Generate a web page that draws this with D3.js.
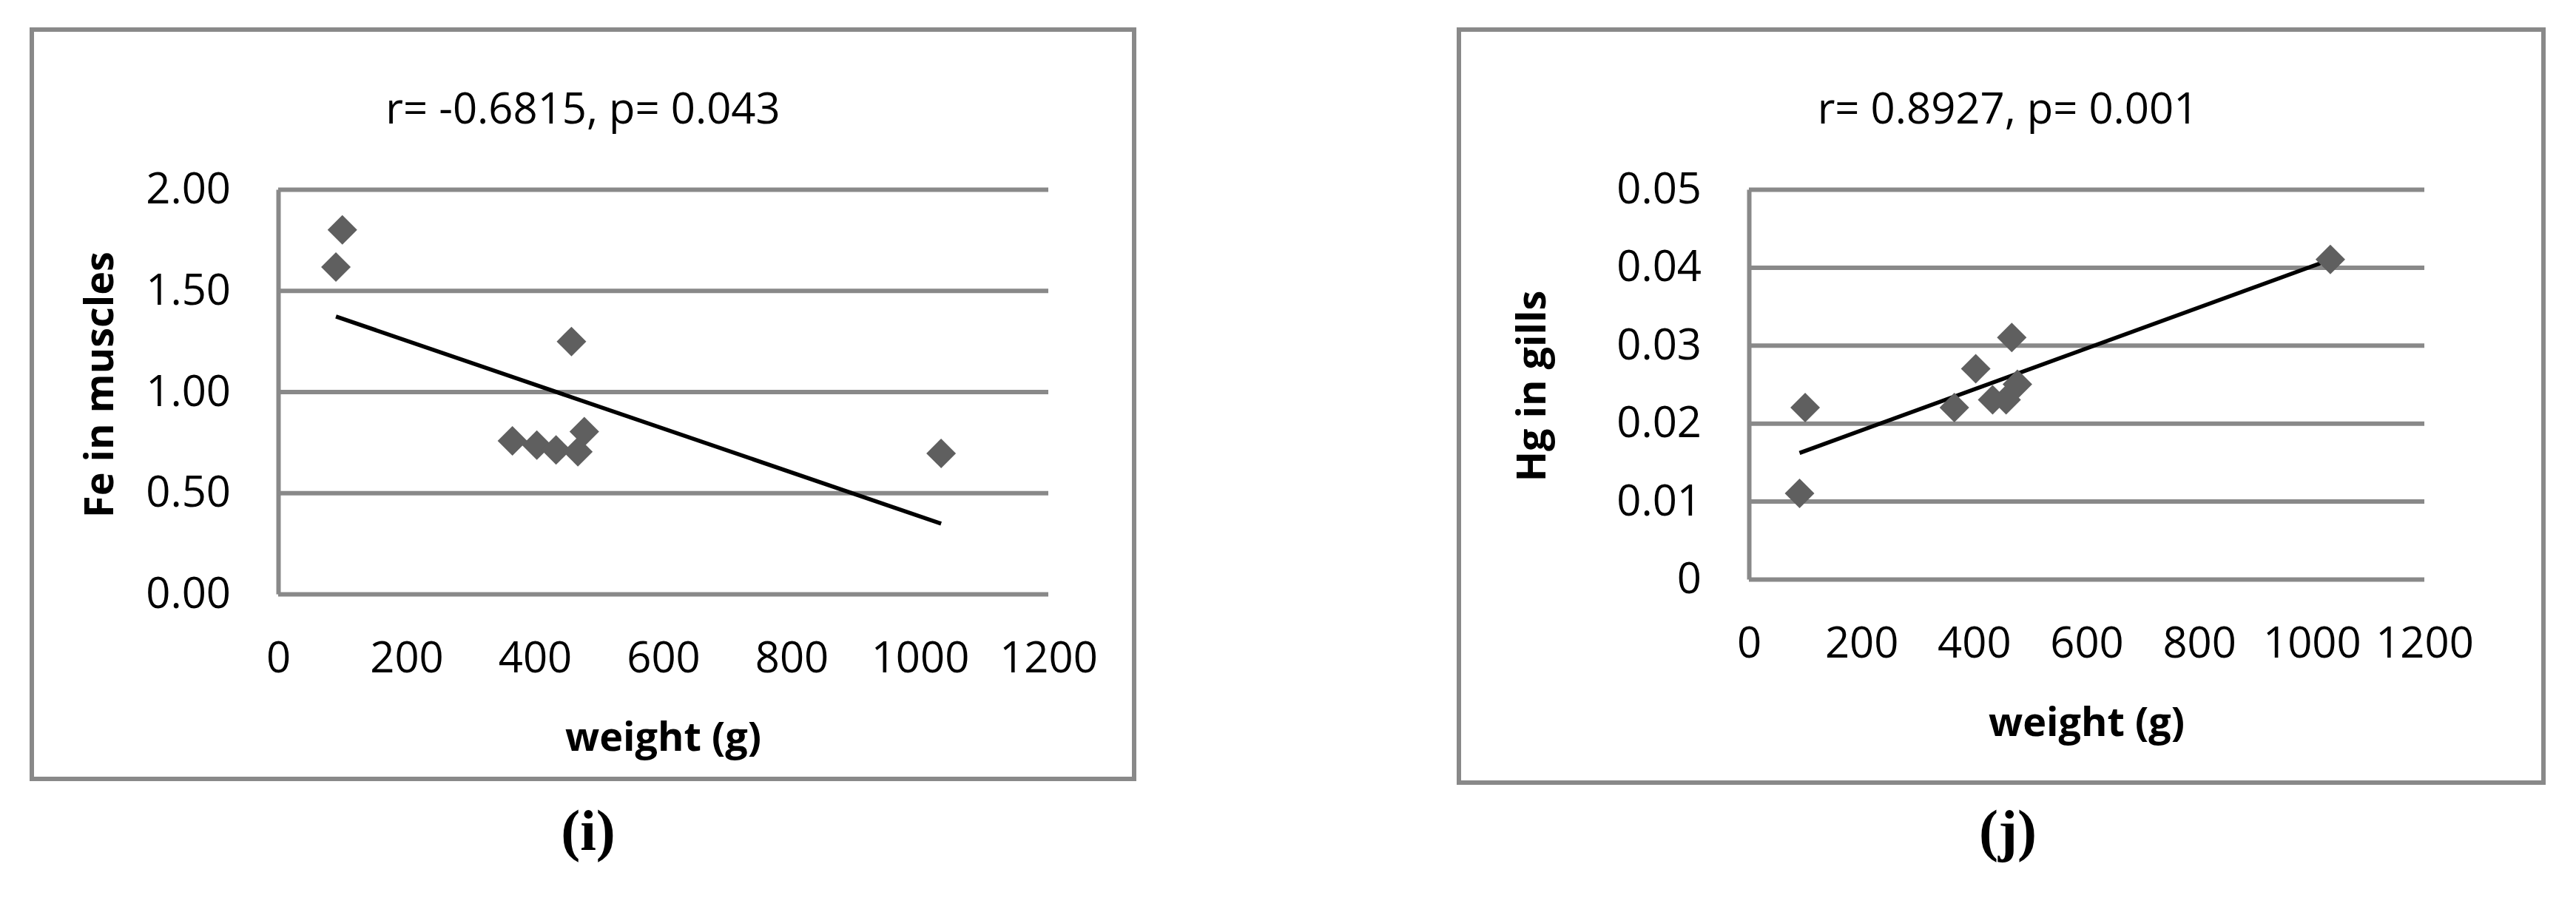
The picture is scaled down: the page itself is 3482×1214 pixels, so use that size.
<!DOCTYPE html>
<html>
<head>
<meta charset="utf-8">
<script src="https://cdn.jsdelivr.net/npm/d3@7/dist/d3.min.js"></script>
<style>
html, body { margin: 0; padding: 0; background: #fff; }
svg { display: block; }
.tick text { font-family: "Open Sans", sans-serif; font-size: 58px; fill: #000; }
.stat { font-family: "Open Sans", sans-serif; font-size: 58px; fill: #000; }
.axis-title { font-family: "Open Sans", sans-serif; font-size: 54px; font-weight: bold; fill: #000; }
.caption { font-family: "Liberation Serif", serif; font-size: 78px; font-weight: bold; fill: #000; }
</style>
</head>
<body>
<svg id="chart" width="3482" height="1214"></svg>
<script>

// fish weight (g), same fish in both panels
var weights = [90, 100, 365, 403, 433, 457, 467, 477, 1033];
// panel (i): Fe in muscles
var feMuscles = [1.616, 1.80, 0.757, 0.736, 0.712, 1.248, 0.703, 0.803, 0.695];
// panel (j): Hg in gills
var hgGills = [0.011, 0.022, 0.022, 0.027, 0.023, 0.023, 0.031, 0.025, 0.041];

var xTicks = [0, 200, 400, 600, 800, 1000, 1200];
var feTicks = [0, 0.5, 1, 1.5, 2];
var feTickLabels = ['0.00', '0.50', '1.00', '1.50', '2.00'];
var hgTicks = [0, 0.01, 0.02, 0.03, 0.04, 0.05];
var hgTickLabels = ['0', '0.01', '0.02', '0.03', '0.04', '0.05'];

var gridColor = '#898989', markerColor = '#5f5f5f';

var svg = d3.select('#chart');

var panels = [
    { frame: [43, 40, 1533, 1053], plot: { l: 376, r: 1417, t: 256, b: 803 },
      y: feMuscles, yMax: 2, ticks: feTicks, labels: feTickLabels,
      yTitle: 'Fe in muscles', yTitleX: 153, yTitleY: 520,
      stat: 'r= -0.6815, p= 0.043', statX: 788,
      xTitleY: 1015, caption: '(i)', captionX: 795 },
    { frame: [1972, 40, 3438, 1058], plot: { l: 2364, r: 3277, t: 256, b: 783 },
      y: hgGills, yMax: 0.05, ticks: hgTicks, labels: hgTickLabels,
      yTitle: 'Hg in gills', yTitleX: 2089, yTitleY: 522,
      stat: 'r= 0.8927, p= 0.001', statX: 2714,
      xTitleY: 995, caption: '(j)', captionX: 2714 }
];

function linReg(xs, ys) {
    var mx = d3.mean(xs), my = d3.mean(ys);
    var sxy = d3.sum(xs, function(x, i) { return (x - mx) * (ys[i] - my); });
    var sxx = d3.sum(xs, function(x) { return (x - mx) * (x - mx); });
    var b = sxy / sxx;
    return function(x) { return my + b * (x - mx); };
}

panels.forEach(function(p) {

    // outer chart border
    svg.append('rect')
        .attr('x', p.frame[0]).attr('y', p.frame[1])
        .attr('width', p.frame[2] - p.frame[0]).attr('height', p.frame[3] - p.frame[1])
        .attr('fill', 'none').attr('stroke', gridColor).attr('stroke-width', 6);

    var x = d3.scaleLinear().domain([0, 1200]).range([p.plot.l, p.plot.r]);
    var y = d3.scaleLinear().domain([0, p.yMax]).range([p.plot.b, p.plot.t]);

    // y axis + horizontal gridlines
    var yAxis = svg.append('g')
        .attr('transform', 'translate(' + p.plot.l + ',0)')
        .call(d3.axisLeft(y).tickValues(p.ticks)
            .tickFormat(function(d, i) { return p.labels[i]; })
            .tickSizeInner(-(p.plot.r - p.plot.l)).tickSizeOuter(0).tickPadding(64));
    yAxis.selectAll('line').attr('stroke', gridColor).attr('stroke-width', 6);
    yAxis.select('.domain').attr('stroke', gridColor).attr('stroke-width', 6);

    // x axis labels only
    var xAxis = svg.append('g')
        .attr('transform', 'translate(0,' + p.plot.b + ')')
        .call(d3.axisBottom(x).tickValues(xTicks).tickFormat(d3.format('d'))
            .tickSize(0).tickPadding(65));
    xAxis.select('.domain').remove();

    // linear trend line over the data range
    var fit = linReg(weights, p.y);
    var ext = d3.extent(weights);
    svg.append('line')
        .attr('x1', x(ext[0])).attr('y1', y(fit(ext[0])))
        .attr('x2', x(ext[1])).attr('y2', y(fit(ext[1])))
        .attr('stroke', '#000').attr('stroke-width', 5.5);

    // diamond markers
    svg.append('g').selectAll('path').data(weights).enter().append('path')
        .attr('d', d3.symbol().type(d3.symbolSquare).size(800))
        .attr('fill', markerColor)
        .attr('transform', function(d, i) {
            return 'translate(' + x(d) + ',' + y(p.y[i]) + ') rotate(45)';
        });

    svg.append('text').attr('class', 'stat')
        .attr('x', p.statX).attr('y', 167).attr('text-anchor', 'middle')
        .text(p.stat);

    svg.append('text').attr('class', 'axis-title')
        .attr('transform', 'translate(' + p.yTitleX + ',' + p.yTitleY + ') rotate(-90)')
        .attr('text-anchor', 'middle')
        .text(p.yTitle);

    svg.append('text').attr('class', 'axis-title')
        .attr('x', (p.plot.l + p.plot.r) / 2).attr('y', p.xTitleY).attr('text-anchor', 'middle')
        .text('weight (g)');

    svg.append('text').attr('class', 'caption')
        .attr('x', p.captionX).attr('y', 1149).attr('text-anchor', 'middle')
        .text(p.caption);
});

</script>
</body>
</html>
